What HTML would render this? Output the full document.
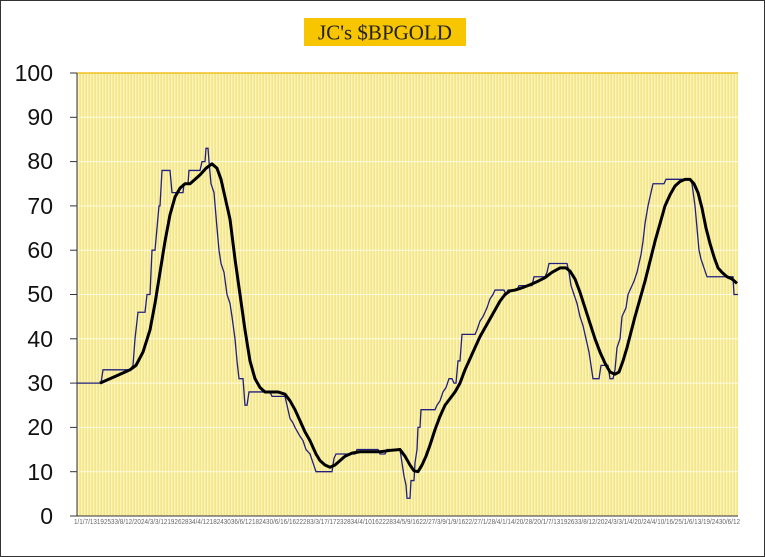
<!DOCTYPE html>
<html><head><style>
body{margin:0;background:#fff;}
#w{position:relative;width:763px;height:555px;border:1px solid #333;overflow:hidden;font-family:"Liberation Sans",sans-serif;}
</style></head><body><div id="w">
<svg width="763" height="555" viewBox="1 1 763 555" style="position:absolute;left:0;top:0">
<defs>
<pattern id="st" width="3" height="10" patternUnits="userSpaceOnUse">
<rect width="3" height="10" fill="#f3e58a"/>
<rect x="0" width="1.4" height="10" fill="#fcf4b8"/>
</pattern>
</defs>
<rect x="304" y="18" width="162" height="28" fill="#f7c600"/>
<text x="385" y="39.5" text-anchor="middle" font-family="Liberation Serif,serif" font-size="21" fill="#222">JC's $BPGOLD</text>
<rect x="77" y="73" width="661" height="443" fill="url(#st)"/>
<g stroke="#fffbe0" stroke-width="1">
<line x1="77" x2="738" y1="117.3" y2="117.3"/><line x1="77" x2="738" y1="161.6" y2="161.6"/>
<line x1="77" x2="738" y1="205.9" y2="205.9"/><line x1="77" x2="738" y1="250.2" y2="250.2"/>
<line x1="77" x2="738" y1="294.5" y2="294.5"/><line x1="77" x2="738" y1="338.8" y2="338.8"/>
<line x1="77" x2="738" y1="383.1" y2="383.1"/><line x1="77" x2="738" y1="427.4" y2="427.4"/>
<line x1="77" x2="738" y1="471.7" y2="471.7"/>
</g>
<line x1="77" x2="738" y1="73" y2="73" stroke="#f0c020" stroke-width="1.5"/>
<line x1="77" x2="77" y1="73" y2="516" stroke="#333" stroke-width="1"/>
<line x1="77" x2="738" y1="516" y2="516" stroke="#333" stroke-width="1"/>
<g stroke="#333"><line x1="70" x2="77" y1="73" y2="73"/><line x1="70" x2="77" y1="117.3" y2="117.3"/><line x1="70" x2="77" y1="161.6" y2="161.6"/><line x1="70" x2="77" y1="205.9" y2="205.9"/><line x1="70" x2="77" y1="250.2" y2="250.2"/><line x1="70" x2="77" y1="294.5" y2="294.5"/><line x1="70" x2="77" y1="338.8" y2="338.8"/><line x1="70" x2="77" y1="383.1" y2="383.1"/><line x1="70" x2="77" y1="427.4" y2="427.4"/><line x1="70" x2="77" y1="471.7" y2="471.7"/><line x1="70" x2="77" y1="516" y2="516"/></g>
<g font-size="23" fill="#111" text-anchor="end">
<text x="53" y="81">100</text><text x="53" y="125">90</text><text x="53" y="169">80</text><text x="53" y="214">70</text><text x="53" y="258">60</text><text x="53" y="302">50</text><text x="53" y="347">40</text><text x="53" y="391">30</text><text x="53" y="435">20</text><text x="53" y="480">10</text><text x="53" y="524">0</text>
</g>
<text x="74" y="524" font-size="7" fill="#666" textLength="666" lengthAdjust="spacingAndGlyphs">1/1/7/13192533/8/12/2024/3/3/1219262834/4/1218243036/6/12182430/6/16/1622283/3/17/17232834/4/1016222834/5/9/1622/27/3/9/1/9/1622/27/1/28/4/1/14/20/28/20/1/7/13192633/8/12/2024/3/3/1/4/20/24/4/10/16/25/1/6/13/19/2430/6/12</text>
<g transform="translate(0,516) scale(1,-4.43)" fill="none">
<polyline vector-effect="non-scaling-stroke" stroke="#202080" stroke-width="1.3" points="77,30 101,30 103,33 130,33 133,34 135,40 138,46 145,46 147,50 150,50 152,60 155,60 157,65 159,70 160,70 162,78 170,78 172,73 183,73 184,75 188,75 189,78 200,78 202,80 205,80 206,83 208,83 209,80 211,75 214,73 217,65 219,60 221,57 224,55 227,50 230,48 232,45 235,40 237,35 239,31 243,31 245,25 247,25 249,28 270,28 272,27 285,27 287,25 290,22 293,21 295,20 300,18 303,17 306,15 310,14 313,12 316,10 332,10 334,13 336,14 355,14 357,15 378,15 380,14 385,14 387,15 400,15 402,12 404,9 406,7 407,4 410,4 411,8 414,8 415,12 417,15 418,20 420,20 421,24 435,24 437,25 440,26 443,28 446,29 449,31 452,31 454,30 456,30 458,35 460,35 462,41 475,41 477,42 480,44 483,45 487,47 490,49 493,50 495,51 504,51 506,50 508,51 517,51 519,52 532,52 534,54 545,54 547,55 549,57 567,57 569,55 571,52 574,50 577,48 580,45 583,43 586,40 589,37 591,34 593,31 599,31 601,34 608,34 610,31 613,31 615,33 617,38 620,40 622,45 626,47 628,50 632,52 634,53 637,55 639,57 641,59 643,62 645,66 648,70 650,72 653,75 664,75 666,76 690,76 692,75 695,70 697,65 699,60 701,58 704,56 707,54 733,54 734,50 738,50"/>
<polyline vector-effect="non-scaling-stroke" stroke="#000" stroke-width="3" stroke-linejoin="round" points="100,30 115,31.5 130,33 136,34 143,37 150,42 155,48 160,55 165,62 170,68 175,72 180,74 185,75 190,75 195,76 200,77 206,78.5 212,79.5 217,78.5 221,76 225,72 230,67 235,58 240,50 245,42 250,35 255,31 260,29 265,28 270,28 278,28 285,27.5 290,26 295,24 300,21.5 305,19 310,17 316,14 320,12.5 325,11.5 330,11 335,11.5 340,12.5 345,13.5 352,14.2 360,14.5 370,14.5 380,14.5 390,14.8 400,15 405,13.5 410,11.5 414,10.2 418,10 422,11.5 426,13.5 430,16 435,19.5 440,22.5 445,25 450,26.5 455,28 460,30 465,33 470,35.5 475,38 480,40.5 485,42.5 490,44.5 495,46.5 500,48.5 505,50 510,50.8 515,51 522,51.5 530,52.2 538,53 545,53.8 552,55 560,56 566,56 570,55.3 575,53.5 580,50.5 585,47 590,43.5 595,40 600,37 605,34.5 610,32.5 615,32 619,32.5 623,35 627,38 631,41.5 635,45 640,49 645,53 650,57.5 655,62 660,66 665,70 670,72.5 675,74.5 680,75.5 685,76 690,76 694,75 698,73 702,69.5 706,65 710,61.5 714,58.5 718,56 722,55 727,54 732,53.5 737,52.5"/>
</g>
</svg>
</div></body></html>
